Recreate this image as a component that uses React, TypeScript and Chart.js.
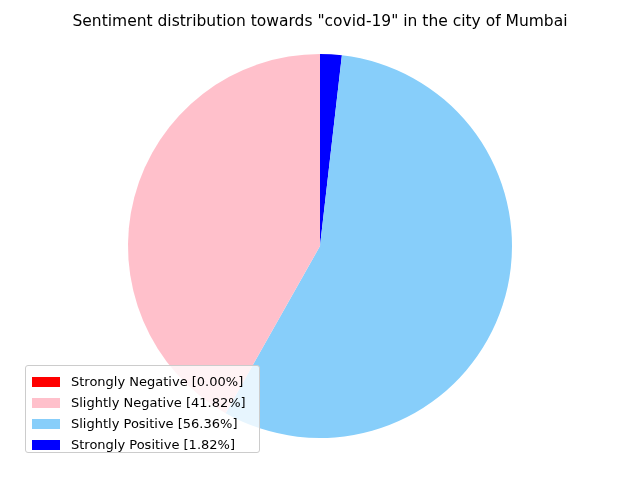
import React, { useEffect, useRef } from 'react';
import { Chart, registerables } from 'chart.js';

Chart.register(...registerables);

const labels = ['Strongly Negative', 'Slightly Negative', 'Slightly Positive', 'Strongly Positive'];
const values = [0.0, 41.82, 56.36, 1.82];
const colors = ['#ff0000', '#ffc0cb', '#87cefa', '#0000ff'];

const font = '"DejaVu Sans", sans-serif';

const App: React.FC = () => {
  const canvasRef = useRef<HTMLCanvasElement>(null);

  useEffect(() => {
    if (!canvasRef.current) return;
    // matplotlib draws counter-clockwise from the top; Chart.js goes clockwise, so reverse
    const chart = new Chart(canvasRef.current, {
      type: 'pie',
      data: {
        labels: [...labels].reverse(),
        datasets: [{
          data: [...values].reverse(),
          backgroundColor: [...colors].reverse(),
          borderWidth: 0,
        }],
      },
      options: {
        animation: false,
        responsive: false,
        layout: { padding: { top: 54, bottom: 42 } },
        plugins: { legend: { display: false }, tooltip: { enabled: false } },
      },
    });
    return () => chart.destroy();
  }, []);

  return (
    <div style={{ position: 'absolute', left: 0, top: 0, width: 640, height: 480, background: '#fff', fontFamily: font }}>
      <canvas ref={canvasRef} width={640} height={480} style={{ position: 'absolute', left: 0, top: 0 }} />
      <div style={{ position: 'absolute', top: 12, width: 640, textAlign: 'center', fontSize: 15.5 }}>
        Sentiment distribution towards "covid-19" in the city of Mumbai
      </div>
      <div style={{
        position: 'absolute', left: 25, top: 365, width: 235, height: 88,
        border: '1px solid #ccc', borderRadius: 3, background: 'rgba(255,255,255,0.8)',
        padding: '5px 0 0 0', boxSizing: 'border-box',
      }}>
        {labels.map((l, i) => (
          <div key={l} style={{ display: 'flex', alignItems: 'center', height: 21, fontSize: 13 }}>
            <span style={{ display: 'inline-block', width: 28, height: 10, background: colors[i], marginLeft: 6, marginRight: 11 }} />
            {`${l} [${values[i].toFixed(2)}%]`}
          </div>
        ))}
      </div>
    </div>
  );
};

export default App;
